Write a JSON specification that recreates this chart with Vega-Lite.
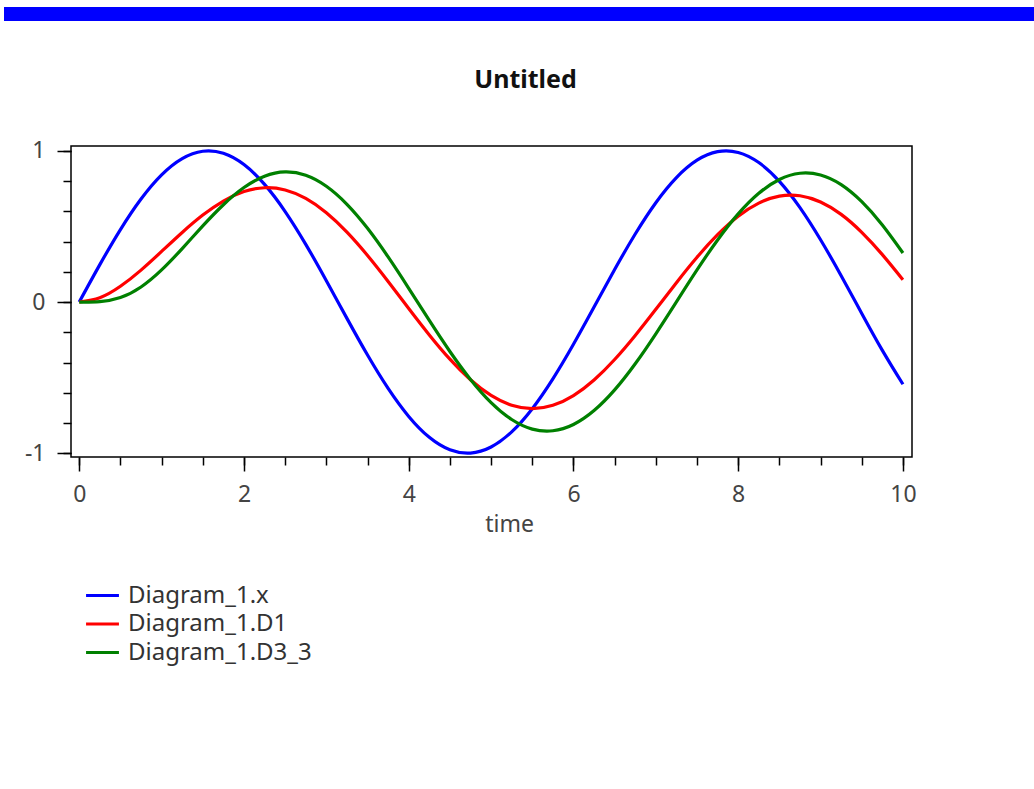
{
  "$schema": "https://vega.github.io/schema/vega-lite/v6.json",
  "padding": {"left": 4, "top": 7, "right": 0, "bottom": 20},
  "background": "#ffffff",
  "config": {
    "font": "Noto Sans",
    "view": {"stroke": "#000000", "strokeWidth": 1.5}
  },
  "datasets": {
    "curves": [
      {"t":0,"v":0,"s":"Diagram_1.x"},{"t":0.25,"v":0.2474,"s":"Diagram_1.x"},{"t":0.5,"v":0.4794,"s":"Diagram_1.x"},{"t":0.75,"v":0.6816,"s":"Diagram_1.x"},{"t":1,"v":0.8415,"s":"Diagram_1.x"},{"t":1.25,"v":0.949,"s":"Diagram_1.x"},{"t":1.5,"v":0.9975,"s":"Diagram_1.x"},{"t":1.75,"v":0.984,"s":"Diagram_1.x"},{"t":2,"v":0.9093,"s":"Diagram_1.x"},{"t":2.25,"v":0.7781,"s":"Diagram_1.x"},{"t":2.5,"v":0.5985,"s":"Diagram_1.x"},{"t":2.75,"v":0.3817,"s":"Diagram_1.x"},{"t":3,"v":0.1411,"s":"Diagram_1.x"},{"t":3.25,"v":-0.1082,"s":"Diagram_1.x"},{"t":3.5,"v":-0.3508,"s":"Diagram_1.x"},{"t":3.75,"v":-0.5716,"s":"Diagram_1.x"},{"t":4,"v":-0.7568,"s":"Diagram_1.x"},{"t":4.25,"v":-0.895,"s":"Diagram_1.x"},{"t":4.5,"v":-0.9775,"s":"Diagram_1.x"},{"t":4.75,"v":-0.9993,"s":"Diagram_1.x"},{"t":5,"v":-0.9589,"s":"Diagram_1.x"},{"t":5.25,"v":-0.8589,"s":"Diagram_1.x"},{"t":5.5,"v":-0.7055,"s":"Diagram_1.x"},{"t":5.75,"v":-0.5083,"s":"Diagram_1.x"},{"t":6,"v":-0.2794,"s":"Diagram_1.x"},{"t":6.25,"v":-0.0332,"s":"Diagram_1.x"},{"t":6.5,"v":0.2151,"s":"Diagram_1.x"},{"t":6.75,"v":0.45,"s":"Diagram_1.x"},{"t":7,"v":0.657,"s":"Diagram_1.x"},{"t":7.25,"v":0.8231,"s":"Diagram_1.x"},{"t":7.5,"v":0.938,"s":"Diagram_1.x"},{"t":7.75,"v":0.9946,"s":"Diagram_1.x"},{"t":8,"v":0.9894,"s":"Diagram_1.x"},{"t":8.25,"v":0.9226,"s":"Diagram_1.x"},{"t":8.5,"v":0.7985,"s":"Diagram_1.x"},{"t":8.75,"v":0.6247,"s":"Diagram_1.x"},{"t":9,"v":0.4121,"s":"Diagram_1.x"},{"t":9.25,"v":0.1743,"s":"Diagram_1.x"},{"t":9.5,"v":-0.0752,"s":"Diagram_1.x"},{"t":9.75,"v":-0.3195,"s":"Diagram_1.x"},{"t":10,"v":-0.544,"s":"Diagram_1.x"},
      {"t":0,"v":0,"s":"Diagram_1.D1"},{"t":0.25,"v":0.0287,"s":"Diagram_1.D1"},{"t":0.5,"v":0.1042,"s":"Diagram_1.D1"},{"t":0.75,"v":0.2112,"s":"Diagram_1.D1"},{"t":1,"v":0.3346,"s":"Diagram_1.D1"},{"t":1.25,"v":0.4601,"s":"Diagram_1.D1"},{"t":1.5,"v":0.575,"s":"Diagram_1.D1"},{"t":1.75,"v":0.668,"s":"Diagram_1.D1"},{"t":2,"v":0.7304,"s":"Diagram_1.D1"},{"t":2.25,"v":0.7559,"s":"Diagram_1.D1"},{"t":2.5,"v":0.7409,"s":"Diagram_1.D1"},{"t":2.75,"v":0.685,"s":"Diagram_1.D1"},{"t":3,"v":0.5905,"s":"Diagram_1.D1"},{"t":3.25,"v":0.4624,"s":"Diagram_1.D1"},{"t":3.5,"v":0.308,"s":"Diagram_1.D1"},{"t":3.75,"v":0.1363,"s":"Diagram_1.D1"},{"t":4,"v":-0.0425,"s":"Diagram_1.D1"},{"t":4.25,"v":-0.2173,"s":"Diagram_1.D1"},{"t":4.5,"v":-0.3778,"s":"Diagram_1.D1"},{"t":4.75,"v":-0.5141,"s":"Diagram_1.D1"},{"t":5,"v":-0.618,"s":"Diagram_1.D1"},{"t":5.25,"v":-0.6829,"s":"Diagram_1.D1"},{"t":5.5,"v":-0.7051,"s":"Diagram_1.D1"},{"t":5.75,"v":-0.6832,"s":"Diagram_1.D1"},{"t":6,"v":-0.6186,"s":"Diagram_1.D1"},{"t":6.25,"v":-0.5154,"s":"Diagram_1.D1"},{"t":6.5,"v":-0.38,"s":"Diagram_1.D1"},{"t":6.75,"v":-0.2209,"s":"Diagram_1.D1"},{"t":7,"v":-0.048,"s":"Diagram_1.D1"},{"t":7.25,"v":0.128,"s":"Diagram_1.D1"},{"t":7.5,"v":0.296,"s":"Diagram_1.D1"},{"t":7.75,"v":0.4453,"s":"Diagram_1.D1"},{"t":8,"v":0.5675,"s":"Diagram_1.D1"},{"t":8.25,"v":0.6542,"s":"Diagram_1.D1"},{"t":8.5,"v":0.7003,"s":"Diagram_1.D1"},{"t":8.75,"v":0.7027,"s":"Diagram_1.D1"},{"t":9,"v":0.6616,"s":"Diagram_1.D1"},{"t":9.25,"v":0.5797,"s":"Diagram_1.D1"},{"t":9.5,"v":0.461,"s":"Diagram_1.D1"},{"t":9.75,"v":0.3137,"s":"Diagram_1.D1"},{"t":10,"v":0.1476,"s":"Diagram_1.D1"},
      {"t":0,"v":0,"s":"Diagram_1.D3_3"},{"t":0.25,"v":0.0028,"s":"Diagram_1.D3_3"},{"t":0.5,"v":0.0295,"s":"Diagram_1.D3_3"},{"t":0.75,"v":0.0997,"s":"Diagram_1.D3_3"},{"t":1,"v":0.2125,"s":"Diagram_1.D3_3"},{"t":1.25,"v":0.3536,"s":"Diagram_1.D3_3"},{"t":1.5,"v":0.5037,"s":"Diagram_1.D3_3"},{"t":1.75,"v":0.6436,"s":"Diagram_1.D3_3"},{"t":2,"v":0.7572,"s":"Diagram_1.D3_3"},{"t":2.25,"v":0.8323,"s":"Diagram_1.D3_3"},{"t":2.5,"v":0.8606,"s":"Diagram_1.D3_3"},{"t":2.75,"v":0.8384,"s":"Diagram_1.D3_3"},{"t":3,"v":0.7657,"s":"Diagram_1.D3_3"},{"t":3.25,"v":0.6465,"s":"Diagram_1.D3_3"},{"t":3.5,"v":0.4876,"s":"Diagram_1.D3_3"},{"t":3.75,"v":0.2983,"s":"Diagram_1.D3_3"},{"t":4,"v":0.091,"s":"Diagram_1.D3_3"},{"t":4.25,"v":-0.1218,"s":"Diagram_1.D3_3"},{"t":4.5,"v":-0.3271,"s":"Diagram_1.D3_3"},{"t":4.75,"v":-0.5121,"s":"Diagram_1.D3_3"},{"t":5,"v":-0.6652,"s":"Diagram_1.D3_3"},{"t":5.25,"v":-0.7769,"s":"Diagram_1.D3_3"},{"t":5.5,"v":-0.8404,"s":"Diagram_1.D3_3"},{"t":5.75,"v":-0.8516,"s":"Diagram_1.D3_3"},{"t":6,"v":-0.8099,"s":"Diagram_1.D3_3"},{"t":6.25,"v":-0.7177,"s":"Diagram_1.D3_3"},{"t":6.5,"v":-0.5811,"s":"Diagram_1.D3_3"},{"t":6.75,"v":-0.4082,"s":"Diagram_1.D3_3"},{"t":7,"v":-0.2099,"s":"Diagram_1.D3_3"},{"t":7.25,"v":0.0013,"s":"Diagram_1.D3_3"},{"t":7.5,"v":0.2126,"s":"Diagram_1.D3_3"},{"t":7.75,"v":0.4104,"s":"Diagram_1.D3_3"},{"t":8,"v":0.5829,"s":"Diagram_1.D3_3"},{"t":8.25,"v":0.7192,"s":"Diagram_1.D3_3"},{"t":8.5,"v":0.8107,"s":"Diagram_1.D3_3"},{"t":8.75,"v":0.8517,"s":"Diagram_1.D3_3"},{"t":9,"v":0.8399,"s":"Diagram_1.D3_3"},{"t":9.25,"v":0.7762,"s":"Diagram_1.D3_3"},{"t":9.5,"v":0.6635,"s":"Diagram_1.D3_3"},{"t":9.75,"v":0.5094,"s":"Diagram_1.D3_3"},{"t":10,"v":0.3246,"s":"Diagram_1.D3_3"}
    ]
  },
  "bounds": "flush",
  "spacing": 125,
  "vconcat": [
    {
      "width": 1030,
      "height": 14,
      "view": {"fill": "#0000ff", "stroke": null},
      "data": {"values": [{}]},
      "mark": {"type": "point", "opacity": 0}
    },
    {
      "bounds": "flush",
      "spacing": 0,
      "hconcat": [
        {
          "width": 67,
          "height": 311,
          "view": {"stroke": null},
          "data": {"values": [{}]},
          "mark": {"type": "point", "opacity": 0}
        },
        {
          "width": 841,
          "height": 311,
          "title": {"text": "Untitled", "fontSize": 25, "fontWeight": "bold", "color": "#111111", "frame": "group", "anchor": "middle", "dx": 34, "baseline": "alphabetic", "offset": 27},
          "data": {"name": "curves"},
          "layer": [
            {
              "mark": {"type": "line", "strokeOpacity": 0},
              "encoding": {
                "x": {"field": "t", "type": "quantitative", "scale": {"domain": [-0.1, 10.11], "nice": false, "zero": false},
                  "axis": {"orient": "bottom", "values": [0,0.5,1,1.5,2,2.5,3,3.5,4,4.5,5,5.5,6,6.5,7,7.5,8,8.5,9,9.5,10], "labels": false, "domain": false, "grid": false, "tickSize": 8, "tickWidth": 1.5, "tickColor": "#000000", "title": null}},
                "y": {"field": "v", "type": "quantitative", "scale": {"domain": [-1.025, 1.032], "nice": false, "zero": false},
                  "axis": {"orient": "left", "values": [-1,-0.8,-0.6,-0.4,-0.2,0,0.2,0.4,0.6,0.8,1], "labels": false, "domain": false, "grid": false, "tickSize": 8, "tickWidth": 1.5, "tickColor": "#000000", "title": null}},
                "detail": {"field": "s"}
              }
            },
            {
              "mark": {"type": "line", "strokeWidth": 3.2, "interpolate": "natural"},
              "encoding": {
                "x": {"field": "t", "type": "quantitative",
                  "axis": {"orient": "bottom", "values": [0,2,4,6,8,10], "labelExpr": "'' + datum.value", "domain": false, "grid": false, "tickSize": 14, "tickWidth": 1.5, "tickColor": "#000000", "labelFontSize": 23, "labelColor": "#444444", "labelPadding": 12, "labelFlush": false, "labelOverlap": false, "title": "time", "titleFontSize": 23, "titleFontWeight": "normal", "titleColor": "#444444", "titleX": 438, "titleY": 74, "titleBaseline": "alphabetic", "titleAnchor": "middle", "titleAlign": "center"}},
                "y": {"field": "v", "type": "quantitative",
                  "axis": {"orient": "left", "values": [-1,0,1], "labelExpr": "'' + datum.value", "domain": false, "grid": false, "tickSize": 14, "tickWidth": 1.5, "tickColor": "#000000", "labelFontSize": 23, "labelColor": "#444444", "labelPadding": 12, "labelFlush": false, "labelOverlap": false, "title": null}},
                "color": {"field": "s", "type": "nominal",
                  "scale": {"domain": ["Diagram_1.x", "Diagram_1.D1", "Diagram_1.D3_3"], "range": ["#0000ff", "#ff0000", "#008000"]},
                  "legend": {"title": null, "orient": "none", "legendX": 84, "legendY": 574, "padding": 0, "symbolType": "M-1.3,0L1.3,0", "symbolSize": 640, "symbolStrokeWidth": 3, "symbolFillColor": "transparent", "labelFontSize": 24, "labelColor": "#333333", "labelOffset": 11, "rowPadding": 1.5, "labelLimit": 400}}
              }
            }
          ],
          "resolve": {"axis": {"x": "independent", "y": "independent"}}
        }
      ]
    }
  ]
}
